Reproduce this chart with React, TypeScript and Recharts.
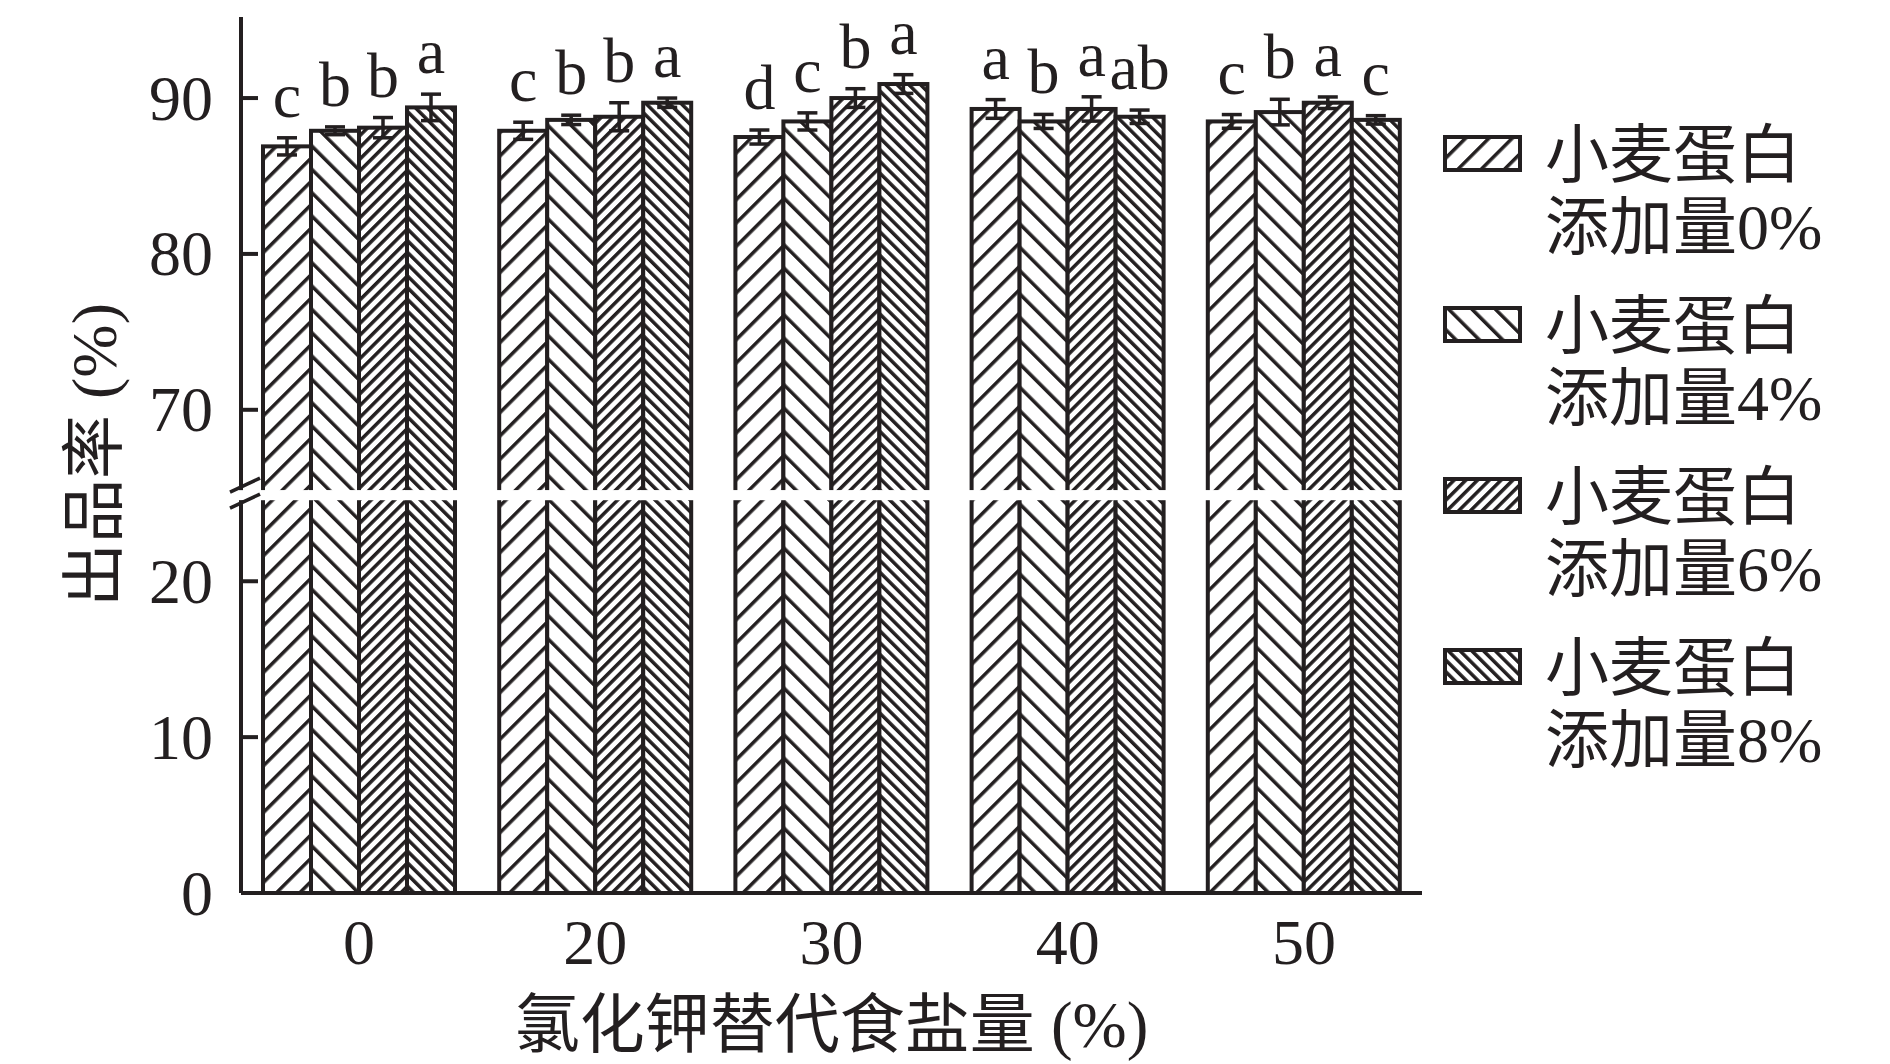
import React from 'react'
import { BarChart, Bar, XAxis, YAxis, ErrorBar, LabelList } from 'recharts'

// KCl substitution levels (%) on the x axis
const categories = ['0', '20', '30', '40', '50']

// yield (%) per wheat-protein addition level
const wheat0 = [86.9, 87.9, 87.5, 89.3, 88.5]
const wheat4 = [87.9, 88.6, 88.5, 88.5, 89.1]
const wheat6 = [88.1, 88.8, 90.0, 89.3, 89.7]
const wheat8 = [89.4, 89.7, 90.9, 88.8, 88.6]

const err0 = [0.55, 0.55, 0.45, 0.6, 0.44]
const err4 = [0.25, 0.3, 0.55, 0.45, 0.82]
const err6 = [0.65, 0.9, 0.6, 0.78, 0.37]
const err8 = [0.85, 0.3, 0.6, 0.43, 0.27]

const sig0 = ['c', 'c', 'd', 'a', 'c']
const sig4 = ['b', 'b', 'c', 'b', 'b']
const sig6 = ['b', 'b', 'b', 'a', 'a']
const sig8 = ['a', 'a', 'a', 'ab', 'c']

const legendLines = [
  ['小麦蛋白', '添加量0%'],
  ['小麦蛋白', '添加量4%'],
  ['小麦蛋白', '添加量6%'],
  ['小麦蛋白', '添加量8%'],
]

const yTickValues = [0, 10, 20, 70, 80, 90]
const yTop = 95.2

const series = [wheat0, wheat4, wheat6, wheat8]
const errors = [err0, err4, err6, err8]
const letters = [sig0, sig4, sig6, sig8]

// broken axis: 0..BREAK_LOW below the gap, BREAK_HIGH.. above it
const BREAK_LOW = 25.2
const BREAK_HIGH = 64.85
const GAP = 0.65
const toAxis = (v: number) => (v > BREAK_LOW ? v - BREAK_HIGH + BREAK_LOW + GAP : v)

const INK = '#231f20'
const FONT = "'Liberation Serif', 'Noto Sans CJK SC', serif"

const data = categories.map((cat, i) => {
  const row: Record<string, string | number> = { cat }
  series.forEach((s, k) => {
    row[`s${k}`] = toAxis(s[i])
    row[`e${k}`] = errors[k][i]
    row[`l${k}`] = letters[k][i]
  })
  return row
})

// hatch spacing and direction per series
const hatches = [
  { gap: 16.5, angle: 45 },
  { gap: 16.5, angle: -45 },
  { gap: 8.3, angle: 45 },
  { gap: 8.3, angle: -45 },
]

function YTick(props: any) {
  const { x, y, index } = props
  if (index >= yTickValues.length) {
    // axis break marks
    return (
      <g>
        <rect x={x - 14} y={y - 5} width={28} height={10} fill="#fff" />
        <line x1={x - 11} y1={y - 3} x2={x + 19} y2={y - 17} stroke={INK} strokeWidth={3.5} />
        <line x1={x - 11} y1={y + 13} x2={x + 19} y2={y - 1} stroke={INK} strokeWidth={3.5} />
      </g>
    )
  }
  return (
    <g>
      <line x1={x} y1={y} x2={x + 17} y2={y} stroke={INK} strokeWidth={4} />
      <text x={x - 28} y={y} textAnchor="end" dominantBaseline="central" fontSize={64} fontFamily={FONT} fill={INK}>
        {yTickValues[index]}
      </text>
    </g>
  )
}

function XTick(props: any) {
  const { x, y, payload } = props
  return (
    <text x={x} y={y + 49} textAnchor="middle" dominantBaseline="central" fontSize={64} fontFamily={FONT} fill={INK}>
      {payload.value}
    </text>
  )
}

function hatchBar(k: number) {
  return (props: any) => {
    const x = Number(props.x)
    const y = Number(props.y)
    const width = Number(props.width)
    const height = Number(props.height)
    const t = toAxis(series[k][props.index])
    const ppu = height / t
    const bottom = y + height
    const gTop = bottom - (BREAK_LOW + GAP) * ppu
    const gBottom = bottom - BREAK_LOW * ppu
    return (
      <g>
        <rect x={x} y={y} width={width} height={height} fill={`url(#hatch${k})`} stroke={INK} strokeWidth={4} />
        <rect x={x - 3} y={gTop} width={width + 6} height={gBottom - gTop} fill="#fff" />
      </g>
    )
  }
}

function letterLabel(k: number) {
  return (props: any) => {
    const x = Number(props.x)
    const y = Number(props.y)
    const width = Number(props.width)
    const height = Number(props.height)
    const idx = props.index
    const t = toAxis(series[k][idx])
    const errPx = (height * errors[k][idx]) / t
    return (
      <text x={x + width / 2} y={y - errPx - 21} textAnchor="middle" fontSize={64} fontFamily={FONT} fill={INK}>
        {props.value}
      </text>
    )
  }
}

function Legend4() {
  return (
    <div style={{ position: 'absolute', left: 1443, top: 120, fontFamily: FONT, color: INK }}>
      {legendLines.map((lines, k) => (
        <div key={k} style={{ display: 'flex', alignItems: 'flex-start', height: 144, marginBottom: 27 }}>
          <svg width={79} height={37} style={{ marginTop: 15, flex: 'none' }}>
            <rect x={2} y={2} width={75} height={33} fill={`url(#hatch${k})`} stroke={INK} strokeWidth={4} />
          </svg>
          <div style={{ marginLeft: 23, fontSize: 64, lineHeight: '72px', whiteSpace: 'nowrap' }}>
            {lines.map((l, j) => (
              <div key={j}>{l}</div>
            ))}
          </div>
        </div>
      ))}
    </div>
  )
}

export default function App() {
  return (
    <div style={{ position: 'absolute', left: 0, top: 0, width: 1890, height: 1064, background: '#fff' }}>
      <BarChart
        width={1890}
        height={1064}
        data={data}
        margin={{ top: 17, right: 468, bottom: 0, left: 0 }}
        barCategoryGap={22}
        barGap={0}
      >
        <defs>
          {hatches.map((h, k) => (
            <pattern
              key={k}
              id={`hatch${k}`}
              patternUnits="userSpaceOnUse"
              width={h.gap}
              height={h.gap}
              patternTransform={`rotate(${h.angle})`}
            >
              <rect width={h.gap} height={h.gap} fill="#fff" />
              <rect width={3.5} height={h.gap} fill={INK} />
            </pattern>
          ))}
        </defs>
        <XAxis
          dataKey="cat"
          height={171}
          axisLine={{ stroke: INK, strokeWidth: 4 }}
          tickLine={false}
          tickSize={0}
          tickMargin={0}
          tick={<XTick />}
          label={{
            content: (p: any) => {
              const vb = p.viewBox
              return (
                <text x={vb.x + vb.width / 2} y={vb.y + 132} textAnchor="middle" dominantBaseline="central" fontSize={65} fontFamily={FONT} fill={INK}>
                  氯化钾替代食盐量 (%)
                </text>
              )
            },
          }}
        />
        <YAxis
          width={241}
          domain={[0, toAxis(yTop)]}
          ticks={[...yTickValues.map(toAxis), BREAK_LOW + GAP / 2]}
          interval={0}
          axisLine={{ stroke: INK, strokeWidth: 4 }}
          tickLine={false}
          tickSize={0}
          tickMargin={0}
          tick={<YTick />}
          label={{
            content: () => (
              <text
                x={94}
                y={455}
                transform="rotate(-90, 94, 455)"
                textAnchor="middle"
                dominantBaseline="central"
                fontSize={64}
                fontFamily={FONT}
                fill={INK}
              >
                出品率 (%)
              </text>
            ),
          }}
        />
        {series.map((_, k) => (
          <Bar key={k} dataKey={`s${k}`} fill={`url(#hatch${k})`} shape={hatchBar(k)} isAnimationActive={false}>
            <ErrorBar dataKey={`e${k}`} direction="y" width={10} stroke={INK} strokeWidth={3.5} />
            <LabelList dataKey={`l${k}`} content={letterLabel(k)} />
          </Bar>
        ))}
      </BarChart>
      <Legend4 />
    </div>
  )
}
